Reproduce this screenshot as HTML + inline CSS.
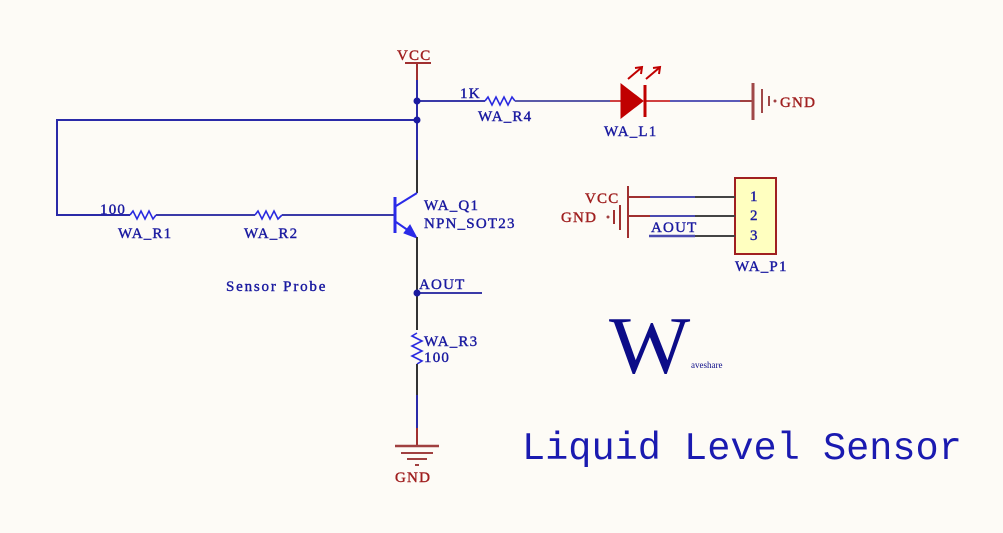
<!DOCTYPE html>
<html><head><style>html,body{margin:0;padding:0;background:#fdfbf6}svg{display:block}</style></head>
<body>
<svg width="1003" height="533" viewBox="0 0 1003 533" xmlns="http://www.w3.org/2000/svg" font-family="Liberation Serif, serif">
<rect width="1003" height="533" fill="#fdfbf6"/>
<g fill="none" stroke-width="2">
<line x1="405" y1="63" x2="431" y2="63" stroke="#a03030"/>
<line x1="417" y1="63" x2="417" y2="80" stroke="#a03030"/>
<line x1="417" y1="80" x2="417" y2="160" stroke="#2a2aa8"/>
<line x1="417" y1="160" x2="417" y2="193" stroke="#333"/>
<line x1="417" y1="101" x2="485" y2="101" stroke="#3a3aa8"/>
<polyline points="485,101 488,97 492,105 496,97 500,105 504,97 508,105 512,97 515,101" stroke="#2a2ae0" stroke-width="1.6"/>
<line x1="515" y1="101" x2="610" y2="101" stroke="#5a5aa8"/>
<line x1="610" y1="101" x2="622" y2="101" stroke="#d04040"/>
<line x1="645" y1="101" x2="670" y2="101" stroke="#d04040"/>
<line x1="670" y1="101" x2="740" y2="101" stroke="#5a5ab8"/>
<line x1="740" y1="101" x2="753" y2="101" stroke="#a04040"/>
<polygon points="621,84 621,118 643,101" fill="#c00000" stroke="#c00000" stroke-width="1"/>
<line x1="645" y1="85" x2="645" y2="117" stroke="#c00000" stroke-width="3"/>
<line x1="628" y1="79" x2="641" y2="68" stroke="#c00000"/>
<polyline points="635,68 642,67 641,74" stroke="#c00000"/>
<line x1="646" y1="79" x2="659" y2="68" stroke="#c00000"/>
<polyline points="653,68 660,67 659,74" stroke="#c00000"/>
<line x1="753" y1="83" x2="753" y2="120" stroke="#a04848" stroke-width="3"/>
<line x1="762" y1="89" x2="762" y2="113" stroke="#a04848" stroke-width="2"/>
<line x1="769" y1="96" x2="769" y2="106" stroke="#a04848" stroke-width="2"/>
<polyline points="417,120 57,120 57,215 130,215" stroke="#2a2aa8"/>
<polyline points="130,215 133,211 137,219 141,211 145,219 149,211 153,219 156,215" stroke="#2a2ae0" stroke-width="1.6"/>
<line x1="156" y1="215" x2="255" y2="215" stroke="#3a3aa8"/>
<polyline points="255,215 258,211 262,219 266,211 270,219 274,211 278,219 282,215" stroke="#2a2ae0" stroke-width="1.6"/>
<line x1="282" y1="215" x2="394" y2="215" stroke="#3a3aa8"/>
<line x1="395" y1="197" x2="395" y2="233" stroke="#2a2ae8" stroke-width="3"/>
<line x1="396" y1="206" x2="417" y2="193" stroke="#2a2ae8"/>
<line x1="396" y1="222" x2="412" y2="233" stroke="#2a2ae8"/>
<polygon points="417,238 404,233 410,225" fill="#2a2ae8" stroke="#2a2ae8" stroke-width="1"/>
<line x1="417" y1="237" x2="417" y2="330" stroke="#333"/>
<polyline points="417,333 412,336 422,341 412,346 422,351 412,356 422,361 417,364" stroke="#2a2ae0" stroke-width="1.6"/>
<line x1="417" y1="364" x2="417" y2="395" stroke="#333"/>
<line x1="417" y1="395" x2="417" y2="428" stroke="#2a2aa8"/>
<line x1="417" y1="428" x2="417" y2="446" stroke="#a03030"/>
<line x1="395" y1="446" x2="439" y2="446" stroke="#a04040" stroke-width="2.5"/>
<line x1="401" y1="453" x2="433" y2="453" stroke="#a04040"/>
<line x1="407" y1="459" x2="427" y2="459" stroke="#a04040"/>
<line x1="415" y1="465" x2="419" y2="465" stroke="#a04040"/>
<line x1="417" y1="293" x2="482" y2="293" stroke="#3a3aa8"/>
<rect x="735" y="178" width="41" height="76" fill="#ffffc0" stroke="#a02020" stroke-width="2"/>
<line x1="628" y1="186" x2="628" y2="238" stroke="#a03030"/>
<line x1="628" y1="197" x2="650" y2="197" stroke="#a03030"/>
<line x1="650" y1="197" x2="695" y2="197" stroke="#4a4ab0"/>
<line x1="695" y1="197" x2="735" y2="197" stroke="#444"/>
<line x1="628" y1="216" x2="650" y2="216" stroke="#a03030"/>
<line x1="650" y1="216" x2="695" y2="216" stroke="#4a4ab0"/>
<line x1="695" y1="216" x2="735" y2="216" stroke="#444"/>
<line x1="649" y1="236" x2="695" y2="236" stroke="#4a4ab0" stroke-width="2.5"/>
<line x1="695" y1="236" x2="735" y2="236" stroke="#444"/>
<line x1="620" y1="205" x2="620" y2="230" stroke="#a03030"/>
<line x1="614" y1="210" x2="614" y2="224" stroke="#a03030"/>
</g>
<g fill="#1a1aa0">
<circle cx="417" cy="101" r="3.5"/><circle cx="417" cy="120" r="3.5"/><circle cx="417" cy="293" r="3.5"/>
</g>
<circle cx="775" cy="101" r="1.5" fill="#a04040"/>
<circle cx="608" cy="217" r="1.5" fill="#a04040"/>
<g font-size="15" letter-spacing="1.2" stroke-width="0.4">
<g fill="#a02020" stroke="#a02020">
<text x="397" y="60">VCC</text>
<text x="780" y="107">GND</text>
<text x="395" y="482">GND</text>
<text x="585" y="203">VCC</text>
<text x="561" y="222">GND</text>
</g>
<g fill="#1a1aa0" stroke="#1a1aa0">
<text x="460" y="98">1K</text>
<text x="478" y="121">WA_R4</text>
<text x="604" y="136">WA_L1</text>
<text x="100" y="214">100</text>
<text x="118" y="238">WA_R1</text>
<text x="244" y="238">WA_R2</text>
<text x="424" y="210">WA_Q1</text>
<text x="424" y="228">NPN_SOT23</text>
<text x="419" y="289">AOUT</text>
<text x="424" y="346">WA_R3</text>
<text x="424" y="362">100</text>
<text x="651" y="232">AOUT</text>
<text x="735" y="271">WA_P1</text>
<text x="750" y="201">1</text>
<text x="750" y="220">2</text>
<text x="750" y="240">3</text>
<text x="226" y="291" letter-spacing="1.8">Sensor  Probe</text>
</g>
</g>
<text x="609" y="373" font-size="82" fill="#0c0c88" transform="translate(609 0) scale(1.05 1) translate(-609 0)">W</text>
<text x="691" y="368" font-size="9" fill="#0c0c88">aveshare</text>
<text x="522" y="459" font-family="Liberation Mono, monospace" font-size="38.6" fill="#1a1ab0">Liquid Level Sensor</text>
</svg>
</body></html>
